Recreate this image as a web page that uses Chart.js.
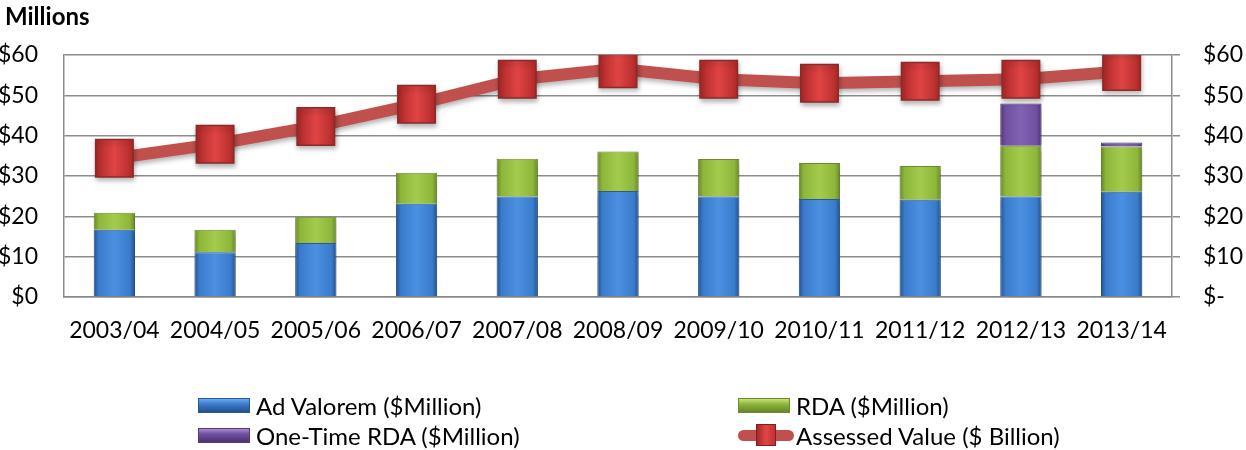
<!DOCTYPE html>
<html>
<head>
<meta charset="utf-8">
<script src="https://cdn.jsdelivr.net/npm/chart.js@4.4.0/dist/chart.umd.min.js"></script>
<style>
  html, body { margin: 0; padding: 0; background: #fff; }
  #wrap { position: relative; width: 1246px; height: 450px; font-family: Lato, "Open Sans", sans-serif; }
  #unit { position: absolute; left: 5px; top: 1px; font-weight: bold; font-size: 24px; color: #000; }
  .lg { position: absolute; height: 28px; display: flex; align-items: center; font-size: 24px; color: #000; white-space: nowrap; }
  .sw { width: 52px; height: 15px; margin-right: 6px; box-sizing: border-box; }
  .lineSw .ln { position: absolute; left: 0; right: 0; top: 9px; height: 11px; background: #c0504d; border-radius: 6px; }
  .lineSw { position: relative; width: 56px; height: 28px; margin-right: 2px; }
  .lineSw .mk { position: absolute; left: 18px; top: 3px; width: 20px; height: 22px; background: linear-gradient(90deg,#a62828,#e04646,#c43030); border: 1px solid #7f2020; box-sizing: border-box; }
</style>
</head>
<body>
<div id="wrap">
  <canvas id="combo" width="1246" height="450"></canvas>
  <div id="unit">Millions</div>
  <div id="legend"></div>
</div>
<script>
// 数据
var years = ['2003/04', '2004/05', '2005/06', '2006/07', '2007/08', '2008/09', '2009/10', '2010/11', '2011/12', '2012/13', '2013/14'];
var adValorem = [16.7, 11.1, 13.4, 23.1, 24.9, 26.3, 24.9, 24.3, 24.1, 24.9, 26.1];
var rda = [4.2, 5.6, 6.5, 7.7, 9.4, 9.8, 9.3, 8.9, 8.4, 12.6, 11.2];
var oneTimeRda = [null, null, null, null, null, null, null, null, null, 10.5, 1.0];
var assessedValue = [34.4, 37.9, 42.3, 47.8, 54.0, 56.6, 54.0, 53.0, 53.5, 54.0, 55.9];
var yTicks = [0, 10, 20, 30, 40, 50, 60];

var BAR_PCT = 0.41;

// horizontal bevel-ish gradient per bar
function barFill(dark, base, light) {
    return function(ctx) {
        var chart = ctx.chart;
        if (!chart.chartArea || !chart.scales.x) return base;
        var x = chart.scales.x.getPixelForValue(ctx.dataIndex);
        var half = chart.scales.x.width / years.length * BAR_PCT / 2;
        var g = chart.ctx.createLinearGradient(x - half, 0, x + half, 0);
        g.addColorStop(0, dark);
        g.addColorStop(0.12, base);
        g.addColorStop(0.5, light);
        g.addColorStop(0.88, base);
        g.addColorStop(1, dark);
        return g;
    };
}

function markerFill(ctx) {
    var chart = ctx.chart;
    if (!chart.chartArea || !chart.scales.x) return '#d43b3b';
    var x = chart.scales.x.getPixelForValue(ctx.dataIndex);
    var g = chart.ctx.createLinearGradient(x - 18, 0, x + 18, 0);
    g.addColorStop(0, '#b02a2a');
    g.addColorStop(0.5, '#e04444');
    g.addColorStop(1, '#b52c2c');
    return g;
}

// soft drop shadow under marks
var shadowPlugin = {
    id: 'shadow',
    beforeDatasetDraw: function(chart) {
        var c = chart.ctx;
        c.save();
        c.shadowColor = 'rgba(0,0,0,0.3)';
        c.shadowBlur = 5;
        c.shadowOffsetX = 1;
        c.shadowOffsetY = 3;
    },
    afterDatasetDraw: function(chart) {
        chart.ctx.restore();
    }
};

var font = { family: 'Lato, "Open Sans", sans-serif', size: 23 };

var data = {
    labels: years,
    datasets: [{
        type: 'line',
        label: 'Assessed Value ($ Billion)',
        data: assessedValue,
        yAxisID: 'y1',
        borderColor: '#c0504d',
        borderWidth: 12,
        pointStyle: 'rect',
        pointRadius: 26.5,
        pointHoverRadius: 26.5,
        pointBackgroundColor: markerFill,
        pointBorderColor: '#8b2a2a',
        pointBorderWidth: 1.5,
        order: 0
    }, {
        type: 'bar',
        label: 'Ad Valorem ($Million)',
        data: adValorem,
        yAxisID: 'y',
        backgroundColor: barFill('#24508a', '#3a7bcb', '#4b90e2'),
        borderColor: '#2a5a95',
        borderWidth: 1,
        stack: 's',
        order: 1
    }, {
        type: 'bar',
        label: 'RDA ($Million)',
        data: rda,
        yAxisID: 'y',
        backgroundColor: barFill('#66852a', '#8db63a', '#a4cb4c'),
        borderColor: '#6d8c2c',
        borderWidth: 1,
        stack: 's',
        order: 1
    }, {
        type: 'bar',
        label: 'One-Time RDA ($Million)',
        data: oneTimeRda,
        yAxisID: 'y',
        backgroundColor: barFill('#4c3275', '#6f4f9f', '#8262b2'),
        borderColor: '#553a7e',
        borderWidth: 1,
        stack: 's',
        order: 1
    }]
};

var options = {
    responsive: false,
    animation: false,
    layout: { padding: { top: 55, left: 0, right: 0, bottom: 0 } },
    datasets: { bar: { categoryPercentage: 1, barPercentage: BAR_PCT } },
    plugins: { legend: { display: false }, tooltip: { enabled: false } },
    scales: {
        x: {
            stacked: true,
            grid: { display: true, drawOnChartArea: false, drawTicks: false },
            border: { display: true, color: '#888', width: 1.5 },
            ticks: { color: '#000', font: font, padding: 20, maxRotation: 0, autoSkip: false },
            afterFit: function(s) { s.height = 153; }
        },
        y: {
            stacked: true,
            position: 'left',
            min: 0, max: 60,
            afterBuildTicks: function(s) { s.ticks = yTicks.map(function(v) { return { value: v }; }); },
            grid: { color: '#8c8c8c', lineWidth: 1.5, drawTicks: false },
            border: { display: true, color: '#8c8c8c', width: 1.5 },
            ticks: { color: '#000', font: font, padding: 26, callback: function(v) { return '$' + v; } },
            afterFit: function(s) { s.width = 64; }
        },
        y1: {
            position: 'right',
            min: 0, max: 60,
            afterBuildTicks: function(s) { s.ticks = yTicks.map(function(v) { return { value: v }; }); },
            grid: { drawOnChartArea: false, drawTicks: true, tickLength: 8, color: '#8c8c8c', lineWidth: 1.5 },
            border: { display: true, color: '#8c8c8c', width: 1.5 },
            ticks: { color: '#000', font: font, padding: 23, callback: function(v) { return v === 0 ? '$-' : '$' + v; } },
            afterFit: function(s) { s.width = 74; }
        }
    }
};

var chart = new Chart(document.getElementById('combo').getContext('2d'), {
    data: data,
    options: options,
    plugins: [shadowPlugin]
});

// legend, two columns like the original
var legendPos = {
    'Ad Valorem ($Million)': [198, 391],
    'RDA ($Million)': [738, 391],
    'One-Time RDA ($Million)': [198, 421],
    'Assessed Value ($ Billion)': [738, 421]
};
var swatchCss = {
    'Ad Valorem ($Million)': 'linear-gradient(180deg,#6aa8ee,#3a7bcb 40%,#24508a)',
    'RDA ($Million)': 'linear-gradient(180deg,#c6e27a,#8db63a 40%,#66852a)',
    'One-Time RDA ($Million)': 'linear-gradient(180deg,#a78ad0,#6f4f9f 40%,#4c3275)'
};
var legend = document.getElementById('legend');
chart.data.datasets.forEach(function(ds) {
    var item = document.createElement('div');
    item.className = 'lg';
    item.style.left = legendPos[ds.label][0] + 'px';
    item.style.top = legendPos[ds.label][1] + 'px';
    var sw = document.createElement('div');
    if (ds.type === 'line') {
        sw.className = 'lineSw';
        sw.innerHTML = '<div class="ln"></div><div class="mk"></div>';
    } else {
        sw.className = 'sw';
        sw.style.background = swatchCss[ds.label];
        sw.style.border = '1px solid ' + ds.borderColor;
    }
    var txt = document.createElement('span');
    txt.textContent = ds.label;
    item.appendChild(sw);
    item.appendChild(txt);
    legend.appendChild(item);
});
</script>
</body>
</html>
